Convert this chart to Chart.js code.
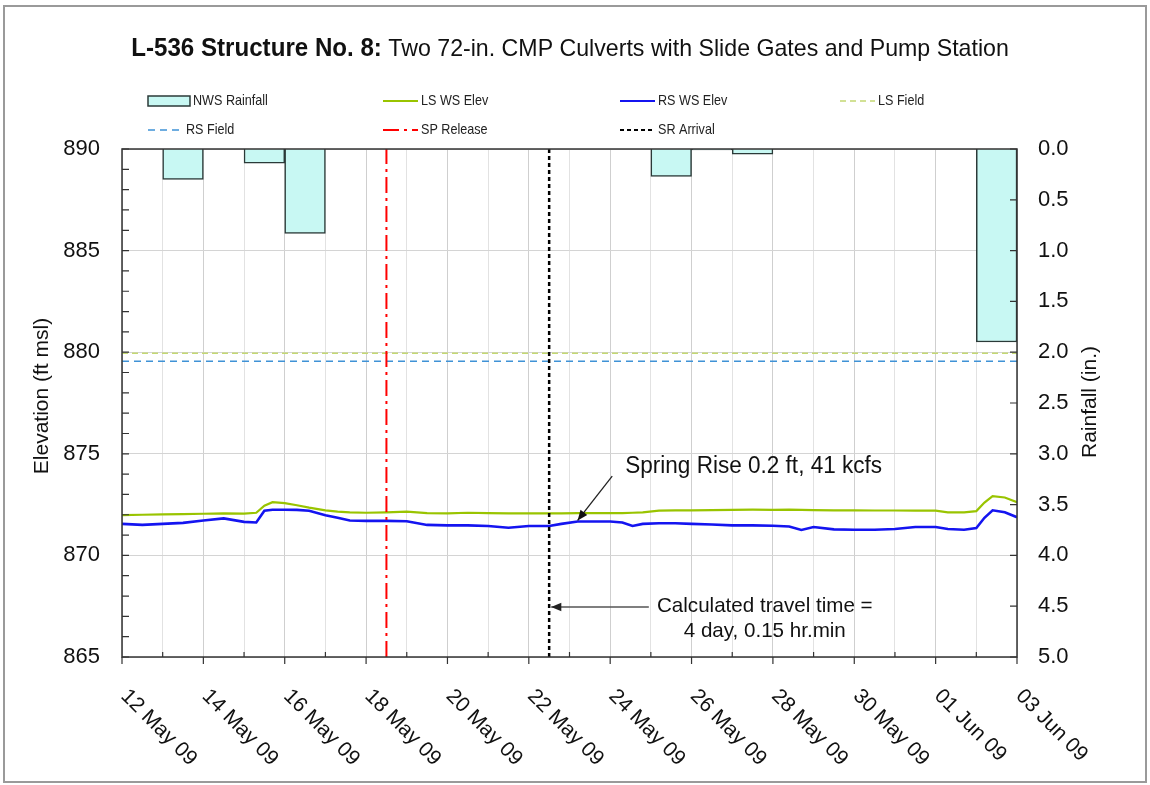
<!DOCTYPE html>
<html>
<head>
<meta charset="utf-8">
<title>L-536 Structure No. 8</title>
<script src="https://cdn.jsdelivr.net/npm/chart.js@4.4.0/dist/chart.umd.min.js"></script>
<style>
  html, body { margin: 0; padding: 0; background: #fff; }
  canvas { display: block; }
</style>
</head>
<body>
<canvas id="chart" width="1150" height="785"></canvas>
<script>
/* ---- data (x = days after 12 May 2009 00:00) ---- */
const tickDays = [0, 2, 4, 6, 8, 10, 12, 14, 16, 18, 20, 22];
const tickLabels = ['12 May 09', '14 May 09', '16 May 09', '18 May 09', '20 May 09', '22 May 09',
  '24 May 09', '26 May 09', '28 May 09', '30 May 09', '01 Jun 09', '03 Jun 09'];

// daily NWS rainfall, bar centred on the middle of each day
const rainDays = [0.5, 1.5, 2.5, 3.5, 4.5, 5.5, 6.5, 7.5, 8.5, 9.5, 10.5,
  11.5, 12.5, 13.5, 14.5, 15.5, 16.5, 17.5, 18.5, 19.5, 20.5, 21.5];
const rainInches = [null, 0.30, null, 0.14, 0.83, null, null, null, null, null, null,
  null, null, 0.27, 0.01, 0.05, null, null, null, null, null, 1.90];

const elevDays = [0, 0.5, 1, 1.5, 2, 2.5, 3, 3.3, 3.5, 3.7, 4, 4.3, 4.6, 5, 5.3, 5.6, 6, 6.5,
  7, 7.5, 8, 8.5, 9, 9.5, 10, 10.5, 10.8, 11.2, 11.6, 12, 12.3, 12.55, 12.8, 13.2, 13.6,
  14, 14.5, 15, 15.5, 16, 16.4, 16.7, 17, 17.5, 18, 18.5, 19, 19.5, 20, 20.3, 20.7,
  21, 21.2, 21.4, 21.7, 22];
const lsElev = [871.98, 872.0, 872.02, 872.03, 872.05, 872.07, 872.06, 872.1, 872.45, 872.62,
  872.57, 872.47, 872.35, 872.22, 872.15, 872.12, 872.1, 872.12, 872.15, 872.08, 872.07,
  872.1, 872.08, 872.07, 872.07, 872.07, 872.07, 872.08, 872.08, 872.08, 872.08, 872.1,
  872.12, 872.2, 872.22, 872.22, 872.23, 872.24, 872.25, 872.24, 872.25, 872.24, 872.23,
  872.22, 872.22, 872.21, 872.21, 872.2, 872.2, 872.12, 872.12, 872.18, 872.6, 872.92,
  872.85, 872.62];
const rsElev = [871.55, 871.5, 871.55, 871.6, 871.72, 871.82, 871.65, 871.62, 872.2, 872.25,
  872.25, 872.24, 872.2, 871.98, 871.85, 871.72, 871.7, 871.7, 871.68, 871.5, 871.48,
  871.48, 871.45, 871.36, 871.45, 871.45, 871.55, 871.67, 871.67, 871.67, 871.62, 871.45,
  871.55, 871.58, 871.58, 871.55, 871.52, 871.48, 871.48, 871.46, 871.42, 871.25, 871.4,
  871.28, 871.26, 871.26, 871.3, 871.4, 871.4, 871.3, 871.26, 871.35, 871.85, 872.22,
  872.12, 871.88];

const fieldDays = [0, 22];
const lsField = [879.95, 879.95];
const rsField = [879.55, 879.55];

const spReleaseDay = 6.5;
const srArrivalDay = 10.5;
const elevRange = [865, 890];

const FONT = '"Liberation Sans", Arial, sans-serif';

const pts = (xs, ys) => xs.map((x, i) => ({ x, y: ys[i] }));

/* ---- extra drawing: title, legend, custom ticks, labels, annotations ---- */
function arrow(ctx, x1, y1, x2, y2) {
  const a = Math.atan2(y2 - y1, x2 - x1);
  ctx.beginPath();
  ctx.moveTo(x1, y1);
  ctx.lineTo(x2, y2);
  ctx.stroke();
  ctx.beginPath();
  ctx.moveTo(x2, y2);
  ctx.lineTo(x2 - 11 * Math.cos(a - 0.4), y2 - 11 * Math.sin(a - 0.4));
  ctx.lineTo(x2 - 11 * Math.cos(a + 0.4), y2 - 11 * Math.sin(a + 0.4));
  ctx.closePath();
  ctx.fill();
}

// narrow-looking text: squeeze horizontally
function narrowText(ctx, text, x, y, sx) {
  ctx.save();
  ctx.translate(x, y);
  ctx.scale(sx, 1);
  ctx.fillText(text, 0, 0);
  ctx.restore();
  return ctx.measureText(text).width * sx;
}

const decorations = {
  id: 'decorations',
  afterDraw(chart) {
    const ctx = chart.ctx;
    const area = chart.chartArea;
    const xs = chart.scales.x, ys = chart.scales.y, rs = chart.scales.y2;
    ctx.save();

    // outer frame
    ctx.strokeStyle = '#9a9a9a';
    ctx.lineWidth = 2;
    ctx.strokeRect(4, 6, 1142, 776);

    // plot box
    ctx.strokeStyle = '#333';
    ctx.lineWidth = 1.5;
    ctx.strokeRect(area.left, area.top, area.right - area.left, area.bottom - area.top);

    // tick marks
    ctx.lineWidth = 1.2;
    ctx.beginPath();
    for (let v = elevRange[0]; v <= elevRange[1]; v++) {
      const y = ys.getPixelForValue(v);
      ctx.moveTo(area.left, y); ctx.lineTo(area.left + 7, y);
    }
    for (let v = 0; v <= 5; v += 0.5) {
      const y = rs.getPixelForValue(v);
      ctx.moveTo(area.right - 7, y); ctx.lineTo(area.right, y);
    }
    for (let d = 0; d <= 22; d++) {
      const x = xs.getPixelForValue(d);
      if (d % 2 === 0) { ctx.moveTo(x, area.bottom); ctx.lineTo(x, area.bottom + 7); }
      else { ctx.moveTo(x, area.bottom - 5); ctx.lineTo(x, area.bottom); }
    }
    ctx.stroke();

    // rotated date labels
    ctx.fillStyle = '#111';
    ctx.font = '21px ' + FONT;
    ctx.textAlign = 'left';
    ctx.textBaseline = 'middle';
    tickDays.forEach((d, i) => {
      const x = xs.getPixelForValue(d);
      ctx.save();
      ctx.translate(x + 2, area.bottom + 36);
      ctx.rotate(Math.PI / 4);
      ctx.fillText(tickLabels[i], 0, 0);
      ctx.restore();
    });

    // axis titles
    ctx.font = '21px ' + FONT;
    ctx.textAlign = 'center';
    ctx.save();
    ctx.translate(42, 396);
    ctx.rotate(-Math.PI / 2);
    ctx.fillText('Elevation (ft msl)', 0, 0);
    ctx.restore();
    ctx.save();
    ctx.translate(1090, 402);
    ctx.rotate(-Math.PI / 2);
    ctx.fillText('Rainfall (in.)', 0, 0);
    ctx.restore();

    // title
    ctx.textBaseline = 'alphabetic';
    ctx.textAlign = 'left';
    const t1 = 'L-536 Structure No. 8:';
    const t2 = ' Two 72-in. CMP Culverts with Slide Gates and Pump Station';
    const sq = 0.965;
    ctx.font = 'bold 25px ' + FONT;
    const w1 = ctx.measureText(t1).width * sq;
    ctx.font = '24px ' + FONT;
    const w2 = ctx.measureText(t2).width * sq;
    const tx = 570 - (w1 + w2) / 2;
    ctx.font = 'bold 25px ' + FONT;
    narrowText(ctx, t1, tx, 56, sq);
    ctx.font = '24px ' + FONT;
    narrowText(ctx, t2, tx + w1, 56, sq);

    // legend
    const cols = [148, 383, 620, 840];
    const rows = [101, 130];
    ctx.font = '15px ' + FONT;
    ctx.textBaseline = 'middle';
    chart.data.datasets.forEach((ds, i) => {
      const cx = cols[i % 4], cy = rows[Math.floor(i / 4)];
      if (ds.type === 'bar') {
        ctx.fillStyle = ds.backgroundColor;
        ctx.fillRect(cx, cy - 5, 42, 10);
        ctx.strokeStyle = ds.borderColor;
        ctx.lineWidth = 1.5;
        ctx.setLineDash([]);
        ctx.strokeRect(cx, cy - 5, 42, 10);
        ctx.fillStyle = '#222';
        narrowText(ctx, ds.label, cx + 45, cy, 0.84);
      } else {
        ctx.strokeStyle = ds.borderColor;
        ctx.lineWidth = Math.min(ds.borderWidth, 2);
        ctx.setLineDash(ds.borderDash || []);
        ctx.beginPath();
        ctx.moveTo(cx, cy); ctx.lineTo(cx + 35, cy);
        ctx.stroke();
        ctx.setLineDash([]);
        ctx.fillStyle = '#222';
        narrowText(ctx, ds.label, cx + 38, cy, 0.84);
      }
    });

    // annotations
    ctx.fillStyle = '#111';
    ctx.strokeStyle = '#222';
    ctx.lineWidth = 1.3;
    ctx.setLineDash([]);
    ctx.font = '23px ' + FONT;
    ctx.textAlign = 'left';
    ctx.textBaseline = 'middle';
    narrowText(ctx, 'Spring Rise 0.2 ft, 41 kcfs', xs.getPixelForValue(12.37), ys.getPixelForValue(874.35), 0.98);
    arrow(ctx, xs.getPixelForValue(12.05), ys.getPixelForValue(873.9),
      xs.getPixelForValue(11.2), ys.getPixelForValue(871.72));

    ctx.font = '21px ' + FONT;
    ctx.textAlign = 'center';
    const cx = xs.getPixelForValue(15.8);
    narrowText(ctx, 'Calculated travel time =', cx, ys.getPixelForValue(867.5), 0.98);
    narrowText(ctx, '4 day, 0.15 hr.min', cx, ys.getPixelForValue(866.28), 0.98);
    ctx.strokeStyle = '#555';
    ctx.fillStyle = '#222';
    arrow(ctx, xs.getPixelForValue(12.95), ys.getPixelForValue(867.46),
      xs.getPixelForValue(srArrivalDay + 0.05), ys.getPixelForValue(867.46));

    ctx.restore();
  }
};

new Chart(document.getElementById('chart'), {
  data: {
    datasets: [
      {
        type: 'bar', label: 'NWS Rainfall', data: pts(rainDays, rainInches),
        xAxisID: 'x', yAxisID: 'y2',
        backgroundColor: 'rgb(200,248,243)', borderColor: '#2b3a38', borderWidth: 1.5,
        barPercentage: 1, categoryPercentage: 1, grouped: false, order: 10
      },
      {
        type: 'line', label: 'LS WS Elev', data: pts(elevDays, lsElev),
        yAxisID: 'y', borderColor: '#99c400', borderWidth: 2.2,
        pointRadius: 0, tension: 0, order: 3
      },
      {
        type: 'line', label: 'RS WS Elev', data: pts(elevDays, rsElev),
        yAxisID: 'y', borderColor: '#1414f0', borderWidth: 2.6,
        pointRadius: 0, tension: 0, order: 2
      },
      {
        type: 'line', label: 'LS Field', data: pts(fieldDays, lsField),
        yAxisID: 'y', borderColor: '#c4d873', borderWidth: 1.6, borderDash: [6, 4],
        pointRadius: 0, order: 5
      },
      {
        type: 'line', label: 'RS Field', data: pts(fieldDays, rsField),
        yAxisID: 'y', borderColor: '#3f92d6', borderWidth: 1.5, borderDash: [7, 5],
        pointRadius: 0, order: 5
      },
      {
        type: 'line', label: 'SP Release',
        data: pts([spReleaseDay, spReleaseDay], elevRange),
        yAxisID: 'y', borderColor: '#ff0000', borderWidth: 2, borderDash: [16, 5, 3, 5],
        pointRadius: 0, order: 1
      },
      {
        type: 'line', label: 'SR Arrival',
        data: pts([srArrivalDay, srArrivalDay], elevRange),
        yAxisID: 'y', borderColor: '#000', borderWidth: 2.5, borderDash: [4, 3],
        pointRadius: 0, order: 1
      }
    ]
  },
  options: {
    responsive: false,
    animation: false,
    devicePixelRatio: 1,
    layout: { padding: { top: 149, left: 0, right: 0, bottom: 0 } },
    plugins: { legend: { display: false }, tooltip: { enabled: false }, title: { display: false } },
    scales: {
      x: {
        type: 'linear', min: 0, max: 22, offset: false,
        afterFit: s => { s.height = 128; },
        ticks: { stepSize: 1, display: false },
        grid: { offset: false, color: ctx => (ctx.tick && ctx.tick.value % 2 === 0) ? '#cfcfcf' : '#e2e2e2', drawTicks: false },
        border: { display: false }
      },
      y: {
        position: 'left', min: elevRange[0], max: elevRange[1],
        afterFit: s => { s.width = 122; },
        ticks: { stepSize: 5, padding: 22, color: '#111', font: { family: FONT, size: 22 } },
        grid: { color: '#d4d4d4', drawTicks: false },
        border: { display: false }
      },
      y2: {
        position: 'right', min: 0, max: 5, reverse: true,
        afterFit: s => { s.width = 133; },
        ticks: { stepSize: 0.5, padding: 21, color: '#111', font: { family: FONT, size: 22 },
          callback: v => v.toFixed(1) },
        grid: { display: false, drawTicks: false },
        border: { display: false }
      }
    }
  },
  plugins: [decorations]
});
</script>
</body>
</html>
